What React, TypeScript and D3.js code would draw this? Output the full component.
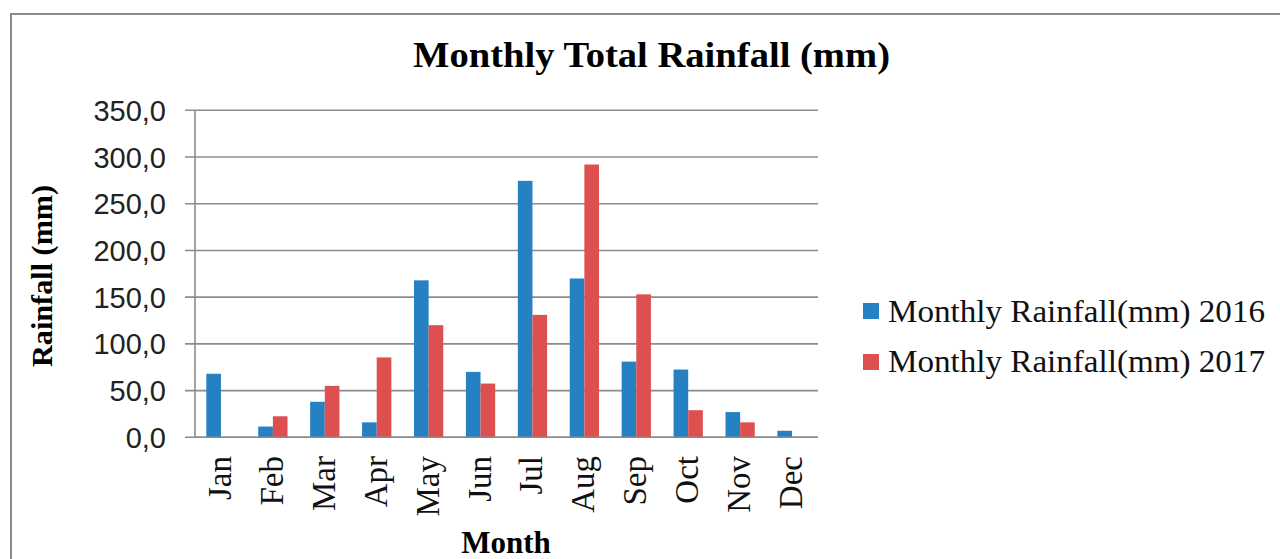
import React from "react";
import * as d3 from "d3";

const months = ["Jan","Feb","Mar","Apr","May","Jun","Jul","Aug","Sep","Oct","Nov","Dec"];
const rain2016 = [68, 11.5, 38, 16, 168, 70, 274.5, 170, 81, 72.5, 27, 7];
const rain2017 = [0, 22.5, 55, 85.5, 120, 57.5, 131, 292, 153, 29, 16, 0];
const yTicks = [0, 50, 100, 150, 200, 250, 300, 350];
const seriesNames = ["Monthly Rainfall(mm) 2016", "Monthly Rainfall(mm) 2017"];
const colors = ["#2681C3", "#DE4F4F"];

export default function App() {
  const W = 1280, H = 559;
  const left = 195, right = 818, top = 110.3, bottom = 437.3;
  const x = d3.scaleBand<string>().domain(months).range([left, right]).padding(0);
  const y = d3.scaleLinear().domain([0, 350]).range([bottom, top]);
  const bw = x.bandwidth() * 0.282;
  const fmt = (v: number) => v.toFixed(1).replace(".", ",");
  const grid = "#8c8c8c";
  const serif = "'Liberation Serif', 'Times New Roman', serif";
  const sans = "'Liberation Sans', Arial, sans-serif";

  return (
    <svg width={W} height={H} style={{ position: "absolute", left: 0, top: 0, background: "#fff" }}>
      <rect x={0} y={0} width={W} height={H} fill="#fff" />
      <path d={`M11,${H + 5} L11,14 L${W + 5},14`} fill="none" stroke="#8a8a8a" strokeWidth={2} />
      <text x={651.5} y={67} textAnchor="middle" fontFamily={serif} fontWeight="bold" fontSize={35}
        textLength={477} lengthAdjust="spacingAndGlyphs">Monthly Total Rainfall (mm)</text>
      {yTicks.map((t) => (
        <g key={t}>
          <line x1={185} x2={right} y1={y(t)} y2={y(t)} stroke={grid} strokeWidth={1.6} />
          <text x={166} y={y(t) + 10.5} textAnchor="end" fontFamily={sans} fontSize={29} fill="#222">{fmt(t)}</text>
        </g>
      ))}
      <line x1={left} x2={left} y1={top} y2={bottom} stroke={grid} strokeWidth={1.6} />
      {months.map((m, i) => {
        const cx = (x(m) as number) + x.bandwidth() / 2;
        return (
          <g key={m}>
            <rect x={cx - bw} y={y(rain2016[i])} width={bw} height={bottom - y(rain2016[i])} fill={colors[0]} />
            <rect x={cx} y={y(rain2017[i])} width={bw} height={bottom - y(rain2017[i])} fill={colors[1]} />
            <text transform={`translate(${cx + 10},456) rotate(-90)`} textAnchor="end" fontFamily={serif} fontSize={33} fill="#111">{m}</text>
          </g>
        );
      })}
      <line x1={left} x2={right} y1={bottom} y2={bottom} stroke={grid} strokeWidth={1.6} />
      <text transform="translate(52,276) rotate(-90)" textAnchor="middle" fontFamily={serif} fontWeight="bold" fontSize={29}
        textLength={182} lengthAdjust="spacingAndGlyphs">Rainfall (mm)</text>
      <text x={506} y={553} textAnchor="middle" fontFamily={serif} fontWeight="bold" fontSize={31}>Month</text>
      {seriesNames.map((s, i) => (
        <g key={s}>
          <rect x={863} y={303 + i * 51} width={16} height={16} fill={colors[i]} />
          <text x={888} y={322 + i * 50} fontFamily={serif} fontSize={31} fill="#111"
            textLength={377} lengthAdjust="spacingAndGlyphs">{s}</text>
        </g>
      ))}
    </svg>
  );
}
